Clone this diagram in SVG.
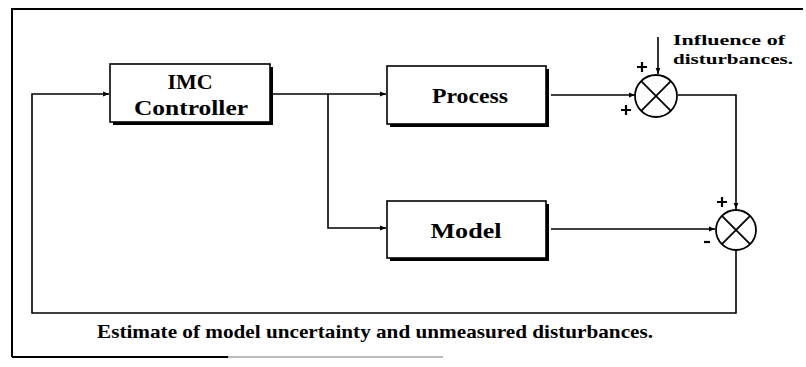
<svg xmlns="http://www.w3.org/2000/svg" width="806" height="367" viewBox="0 0 806 367">
  <style>
    .frame { stroke: #000; stroke-width: 2; fill: none; }
    .wire { stroke: #000; stroke-width: 1.6; fill: none; }
    .box { fill: #fff; stroke: #000; stroke-width: 1.6; }
    .shadow { fill: #000; }
    .sum { fill: #fff; stroke: #000; stroke-width: 1.8; }
    .cross { stroke: #000; stroke-width: 1.8; }
    .sign { stroke: #000; stroke-width: 2.2; }
    text { font-weight: bold; fill: #000; }
    .big { font-size: 22px; text-anchor: middle; }
    .note { font-size: 15.5px; }
  </style>
  <defs>
    <marker id="arrow" viewBox="0 0 10 10" refX="10" refY="5" markerWidth="6" markerHeight="6" markerUnits="userSpaceOnUse" orient="auto">
      <path d="M0,1 L10,5 L0,9 Z" fill="#000"/>
    </marker>
  </defs>
  <rect width="806" height="367" fill="#fff"/>

  <!-- outer frame -->
  <g id="frame">
    <path class="frame" d="M12,357 V9 H803"/>
    <path class="frame" d="M12,357 H228"/>
    <path d="M228,357 H443" stroke="#bbb" stroke-width="2"/>
  </g>

  <!-- connectors -->
  <g id="connectors">
    <path class="wire" d="M736,250 V313 H32 V94 H109" marker-end="url(#arrow)"/>
    <path class="wire" d="M273,94 H386" marker-end="url(#arrow)"/>
    <path class="wire" d="M328,94 V228 H386" marker-end="url(#arrow)"/>
    <path class="wire" d="M551,95 H635" marker-end="url(#arrow)"/>
    <path class="wire" d="M551,229 H715" marker-end="url(#arrow)"/>
    <path class="wire" d="M678,95 H736 V209" marker-end="url(#arrow)"/>
    <path class="wire" d="M658,37 V74" marker-end="url(#arrow)"/>
  </g>

  <g id="imc" font-family="'Liberation Serif', 'DejaVu Serif', 'Times New Roman', serif">
    <rect class="shadow" x="113" y="67" width="160" height="58"/>
    <rect class="box" x="110" y="64" width="160" height="58"/>
    <text class="big" x="190" y="89">IMC</text>
    <text class="big" x="191" y="115" textLength="114" lengthAdjust="spacingAndGlyphs">Controller</text>
  </g>

  <g id="process" font-family="'Liberation Serif', 'DejaVu Serif', 'Times New Roman', serif">
    <rect class="shadow" x="390" y="69" width="159" height="58"/>
    <rect class="box" x="387" y="66" width="159" height="58"/>
    <text class="big" x="470" y="103" textLength="76" lengthAdjust="spacingAndGlyphs">Process</text>
  </g>

  <g id="model" font-family="'Liberation Serif', 'DejaVu Serif', 'Times New Roman', serif">
    <rect class="shadow" x="390" y="204" width="159" height="57"/>
    <rect class="box" x="387" y="201" width="159" height="57"/>
    <text class="big" x="466" y="238" textLength="71" lengthAdjust="spacingAndGlyphs">Model</text>
  </g>

  <g id="sum1">
    <circle class="sum" cx="656" cy="96" r="21"/>
    <path class="cross" d="M641.2,81.2 L670.8,110.8 M670.8,81.2 L641.2,110.8"/>
    <path class="sign" d="M637,67 H647 M642,62 V72"/>
    <path class="sign" d="M621,110 H631 M626,105 V115"/>
  </g>

  <g id="sum2">
    <circle class="sum" cx="736" cy="230" r="20"/>
    <path class="cross" d="M721.9,215.9 L750.1,244.1 M750.1,215.9 L721.9,244.1"/>
    <path class="sign" d="M717,202 H727 M722,197 V207"/>
    <path class="sign" d="M704,242 H710"/>
  </g>

  <g id="disturbance-label" font-family="'Liberation Serif', 'DejaVu Serif', 'Times New Roman', serif">
    <text class="note" x="673" y="45" textLength="112" lengthAdjust="spacingAndGlyphs">Influence of</text>
    <text class="note" x="673" y="64" textLength="120" lengthAdjust="spacingAndGlyphs">disturbances.</text>
  </g>

  <g id="feedback-label" font-family="'Liberation Serif', 'DejaVu Serif', 'Times New Roman', serif">
    <text font-size="19" x="97" y="338" textLength="556" lengthAdjust="spacingAndGlyphs">Estimate of model uncertainty and unmeasured disturbances.</text>
  </g>
</svg>
